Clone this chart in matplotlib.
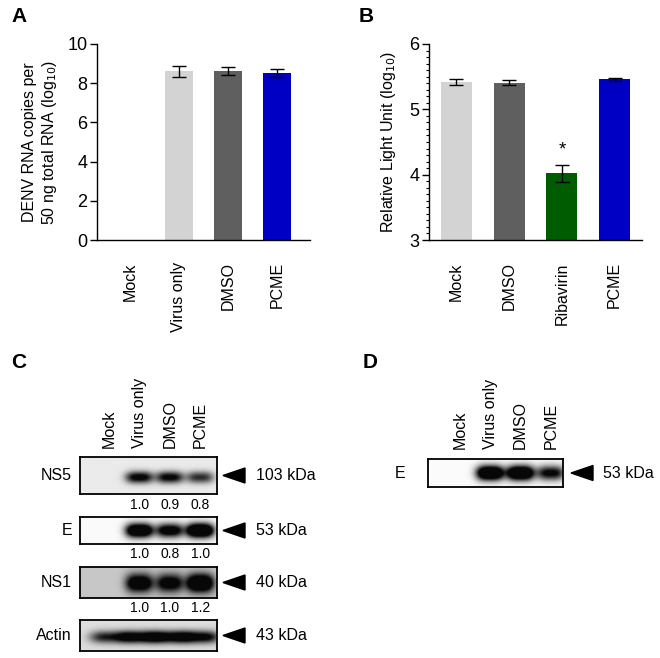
import numpy as np
import matplotlib
matplotlib.use("Agg")
import matplotlib.pyplot as plt
from matplotlib.patches import Polygon
from matplotlib.ticker import MultipleLocator

plt.rcParams['font.family'] = ['Liberation Sans', 'DejaVu Sans']

# ---------------- data ----------------
catsA = ["Mock", "Virus only", "DMSO", "PCME"]
valsA = [0.0, 8.60, 8.62, 8.52]
errA = [0.0, 0.28, 0.20, 0.22]
colorsA = ["#ffffff", "#d3d3d3", "#5f5f5f", "#0000c4"]

catsB = ["Mock", "DMSO", "Ribavirin", "PCME"]
valsB = [5.42, 5.41, 4.02, 5.46]
errB = [0.04, 0.04, 0.13, 0.025]
colorsB = ["#d3d3d3", "#5f5f5f", "#005c00", "#0000c4"]
sigB = ["", "", "*", ""]

lanesC = ["Mock", "Virus only", "DMSO", "PCME"]
proteinsC = ["NS5", "E", "NS1", "Actin"]
kdaC = ["103 kDa", "53 kDa", "40 kDa", "43 kDa"]
quantC = [["1.0", "0.9", "0.8"], ["1.0", "0.8", "1.0"], ["1.0", "1.0", "1.2"], []]
bandNS5 = [0.0, 1.15, 1.1, 0.85]
bandE_C = [0.0, 1.7, 1.3, 1.9]
bandNS1 = [0.0, 1.5, 1.3, 1.8]
bandActin = [0.95, 1.3, 1.3, 1.2]

lanesD = ["Mock", "Virus only", "DMSO", "PCME"]
proteinD = "E"
kdaD = "53 kDa"
bandE_D = [0.0, 1.8, 1.8, 1.1]

# ---------------- layout helpers ----------------
W, H = 660, 658
fig = plt.figure(figsize=(W / 100, H / 100), dpi=100)


def px_axes(l, t, r, b):
    return fig.add_axes([l / W, 1 - b / H, (r - l) / W, (b - t) / H])


def fx(x):
    return x / W


def fy(y):
    return 1 - y / H


FS = 11.5

# ---------------- Panel A ----------------
axA = px_axes(97, 44, 310, 240)
xA = np.arange(len(catsA))
axA.bar(xA, valsA, width=0.58, color=colorsA, edgecolor="none", zorder=2)
mA = np.array(errA) > 0
axA.errorbar(xA[mA], np.array(valsA)[mA], yerr=np.array(errA)[mA], fmt="none",
             ecolor="black", elinewidth=1.0, capsize=5, capthick=1.0, zorder=3)
axA.set_xlim(-0.67, 3.67)
axA.set_ylim(0, 10)
axA.set_yticks(np.arange(0, 11, 2))
axA.set_xticks(xA)
axA.set_xticklabels(catsA, rotation=90, fontsize=FS)
axA.tick_params(axis="x", length=0, pad=16)
axA.tick_params(axis="y", labelsize=FS + 1.5, length=5, width=1, pad=2)
axA.set_ylabel("DENV RNA copies per\n50 ng total RNA (log$_{10}$)", fontsize=FS, labelpad=6)
for s in ["top", "right"]:
    axA.spines[s].set_visible(False)
for s in ["left", "bottom"]:
    axA.spines[s].set_linewidth(1.0)

# ---------------- Panel B ----------------
axB = px_axes(429, 44, 642, 240)
xB = np.arange(len(catsB))
axB.bar(xB, np.array(valsB) - 3, bottom=3, width=0.59, color=colorsB, edgecolor="none", zorder=2)
axB.errorbar(xB, valsB, yerr=errB, fmt="none", ecolor="black", elinewidth=1.0,
             capsize=5, capthick=1.0, zorder=3)
for xi, v, e, s in zip(xB, valsB, errB, sigB):
    if s:
        axB.text(xi, v + e + 0.1, s, ha="center", va="bottom", fontsize=FS + 2)
axB.set_xlim(-0.52, 3.52)
axB.set_ylim(3, 6)
axB.set_yticks([3, 4, 5, 6])
axB.yaxis.set_minor_locator(MultipleLocator(0.1))
axB.set_xticks(xB)
axB.set_xticklabels(catsB, rotation=90, fontsize=FS)
axB.tick_params(axis="x", length=0, pad=16)
axB.tick_params(axis="y", which="major", labelsize=FS + 1.5, length=5, width=1, pad=2)
axB.tick_params(axis="y", which="minor", length=2.5, width=0.8)
axB.set_ylabel("Relative Light Unit (log$_{10}$)", fontsize=FS, labelpad=8)
for s in ["top", "right"]:
    axB.spines[s].set_visible(False)
for s in ["left", "bottom"]:
    axB.spines[s].set_linewidth(1.0)

# ---------------- blots ----------------


def draw_blot(box, xlim, amps, bg, wx, wy, yc, px=3.0):
    l, t, r, b = box
    ax = px_axes(l, t, r, b)
    xs = np.linspace(xlim[0], xlim[1], 300)
    ys = np.linspace(0, 1, 80)
    X, Y = np.meshgrid(xs, ys)
    dark = np.zeros_like(X)
    for i, a in enumerate(amps):
        dark += a * np.exp(-(np.abs(X - i) / wx) ** px - ((Y - yc) / wy) ** 2)
    dark = np.clip(dark, 0, 1)
    img = bg - (bg - 0.03) * dark
    ax.imshow(img, extent=(xlim[0], xlim[1], 0, 1), origin="lower", aspect="auto",
              cmap="gray", vmin=0, vmax=1, interpolation="bilinear")
    ax.set_xlim(*xlim)
    ax.set_ylim(0, 1)
    ax.set_xticks([])
    ax.set_yticks([])
    for s in ax.spines.values():
        s.set_linewidth(1.3)
        s.set_color("black")
    return ax


def arrow(xl, xr, yc, h=7.5):
    tri = Polygon([[fx(xl), fy(yc)], [fx(xr), fy(yc - h)], [fx(xr), fy(yc + h)]],
                  closed=True, transform=fig.transFigure, facecolor="black",
                  edgecolor="black")
    fig.add_artist(tri)


xlimC = (-0.95, 3.55)
boxesC = [(80, 457, 217, 494), (80, 517, 217, 544), (80, 567, 217, 598), (80, 620, 217, 651)]
bandsC = [bandNS5, bandE_C, bandNS1, bandActin]
bgsC = [0.92, 0.98, 0.78, 0.87]
wxC = [0.45, 0.45, 0.45, 0.62]
wyC = [0.16, 0.26, 0.30, 0.20]
ycC = [0.45, 0.5, 0.48, 0.45]

axesC = []
for k in range(4):
    ax = draw_blot(boxesC[k], xlimC, bandsC[k], bgsC[k], wxC[k], wyC[k], ycC[k])
    axesC.append(ax)
    l, t, r, b = boxesC[k]
    yc = (t + b) / 2
    fig.text(fx(72), fy(yc), proteinsC[k], ha="right", va="center", fontsize=FS)
    arrow(223, 245, yc)
    fig.text(fx(256), fy(yc), kdaC[k], ha="left", va="center", fontsize=FS)
    if quantC[k]:
        for j, q in enumerate(quantC[k]):
            ax.text(j + 1, -0.1, q, ha="center", va="top", fontsize=10,
                    transform=ax.get_xaxis_transform())

for i, ln in enumerate(lanesC):
    axesC[0].text(i, 1.0 + 9 / 37, ln, rotation=90, ha="center", va="bottom",
                  fontsize=FS, transform=axesC[0].get_xaxis_transform())

# Panel D
xlimD = (-1.05, 3.4)
boxD = (428, 459, 563, 487)
axD = draw_blot(boxD, xlimD, bandE_D, 0.985, 0.45, 0.26, 0.5)
ycD = (boxD[1] + boxD[3]) / 2
fig.text(fx(405), fy(ycD), proteinD, ha="right", va="center", fontsize=FS)
arrow(571, 593, ycD)
fig.text(fx(603), fy(ycD), kdaD, ha="left", va="center", fontsize=FS)
for i, ln in enumerate(lanesD):
    axD.text(i, 1.0 + 10 / 28, ln, rotation=90, ha="center", va="bottom",
             fontsize=FS, transform=axD.get_xaxis_transform())

# panel letters
for lab, (x, y) in zip("ABCD", [(11, 16), (359, 16), (11, 362), (363, 362)]):
    fig.text(fx(x), fy(y), lab, ha="left", va="center", fontsize=15, fontweight="bold")

fig.savefig("out.png", dpi=100)
